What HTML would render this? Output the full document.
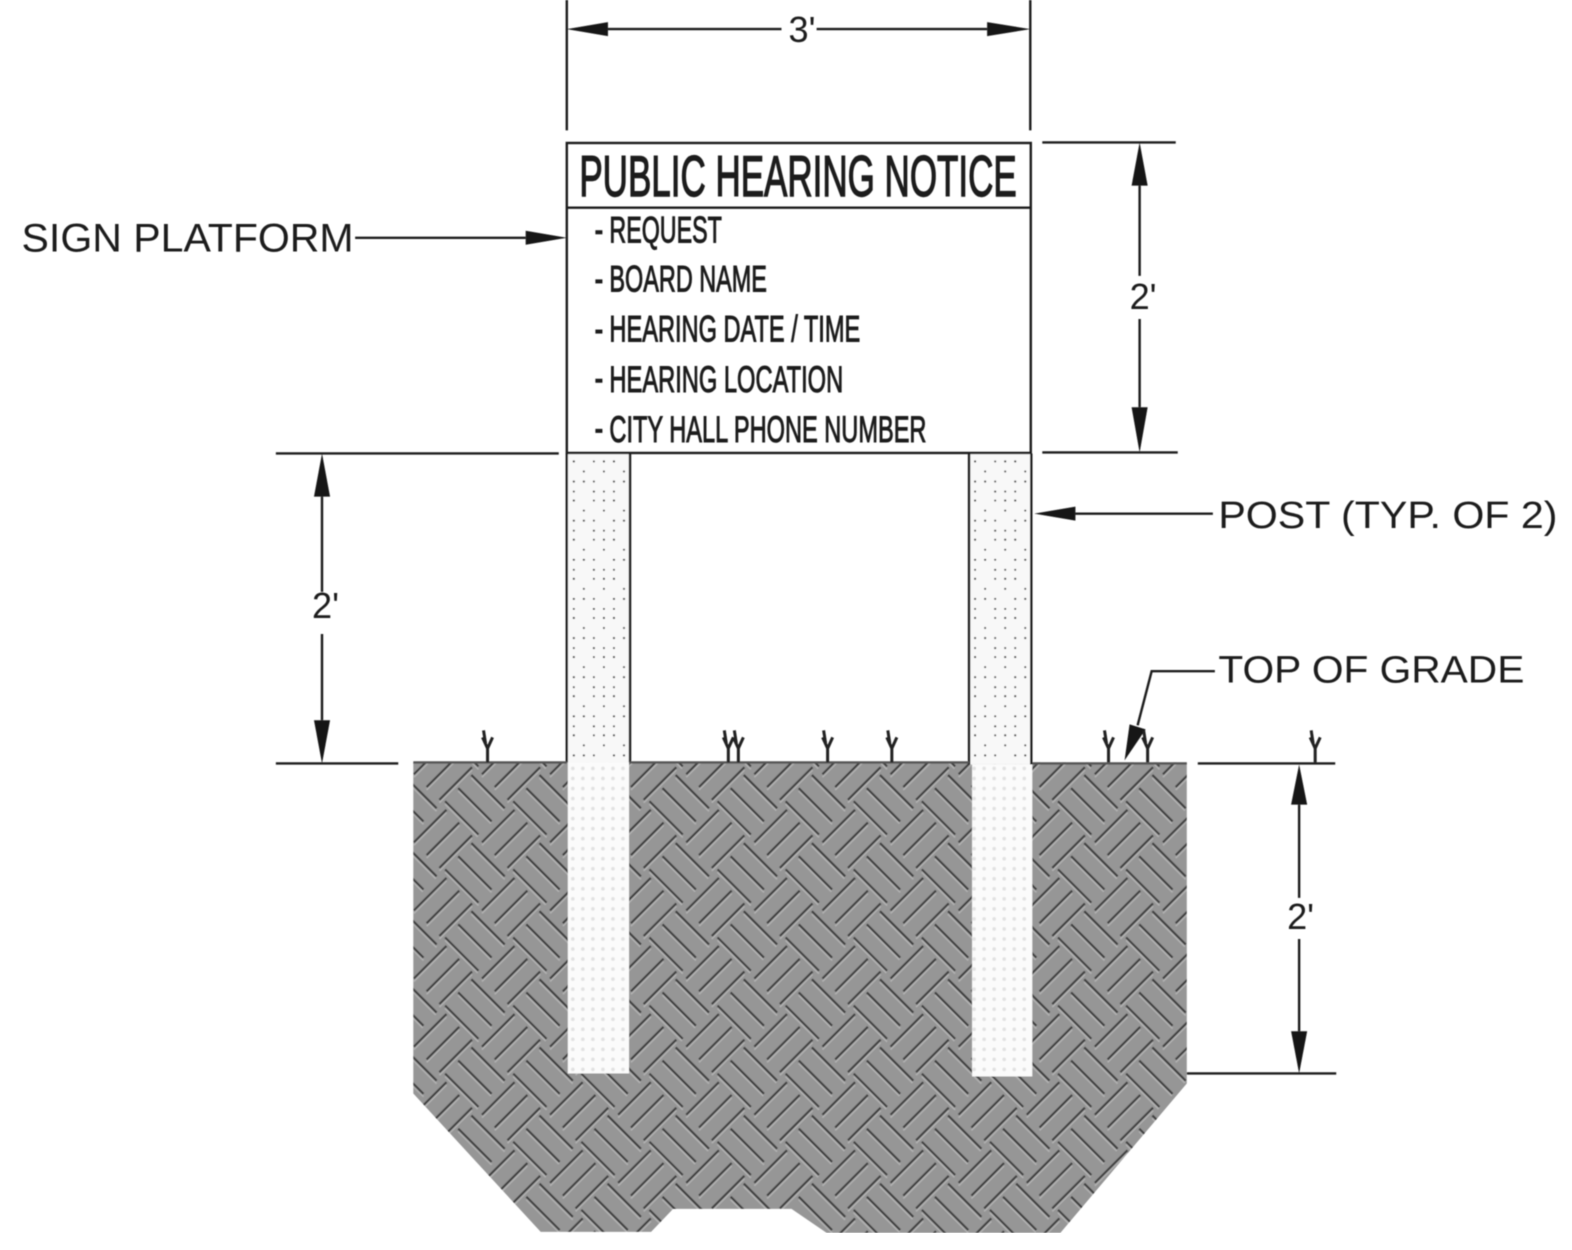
<!DOCTYPE html>
<html><head><meta charset="utf-8"><style>html,body{margin:0;padding:0;background:#fff}svg{display:block}text{font-family:"Liberation Sans",sans-serif;fill:#1c1c1c}</style></head><body>
<svg width="1572" height="1250" viewBox="0 0 1567 1246" xmlns="http://www.w3.org/2000/svg">
<defs>
<filter id="soft" x="0" y="0" width="100%" height="100%"><feGaussianBlur stdDeviation="0.55"/></filter>
<pattern id="weave" patternUnits="userSpaceOnUse" width="96" height="96" patternTransform="translate(674.5 772.5) rotate(45)">
<rect width="96" height="96" fill="#969696"/>
<g stroke="#bcbcbc" stroke-width="1.6" transform="translate(2 2)" opacity=".75"><path d="M0 0H47M0 18.500H47M0 37H47M0 96H47M48 48H95M48 66.500H95M48 85H95M55 -6V40M73 -6V40M91 -6V40M55 90V136M73 90V136M91 90V136M7 42V88M25 42V88M43 42V88"/></g>
<g stroke="#404040" stroke-width="2.200"><path d="M0 0H47M0 18.500H47M0 37H47M0 96H47M48 48H95M48 66.500H95M48 85H95M55 -6V40M73 -6V40M91 -6V40M55 90V136M73 90V136M91 90V136M7 42V88M25 42V88M43 42V88"/></g>
</pattern>
<pattern id="dots" patternUnits="userSpaceOnUse" width="40" height="39" x="568" y="456"><rect width="40" height="39" fill="#f8f8f8"/>
<g fill="#444"><circle cx="5" cy="4" r="1.100"/><circle cx="25" cy="4" r="1"/><circle cx="35" cy="4" r="1.100"/><circle cx="15" cy="14" r="1"/><circle cx="35" cy="14" r="1"/><circle cx="5" cy="24" r="1.100"/><circle cx="15" cy="24" r="1.100"/><circle cx="25" cy="24" r="1"/><circle cx="5" cy="34" r="1"/><circle cx="25" cy="34" r="1.100"/><circle cx="35" cy="34" r="1"/></g></pattern>
<pattern id="dots2" patternUnits="userSpaceOnUse" width="10" height="10" x="568" y="762"><rect width="10" height="10" fill="#fbfbfb"/><circle cx="4" cy="4" r="1.800" fill="#e2e2e2"/></pattern>
<g id="t" fill="none" stroke="#222" stroke-width="3"><path d="M0 0V-14M0-14L-5-25M0-14L5-25M-2-19L-4-32"/></g>
</defs>

<g filter="url(#soft)">
<g transform="translate(-1 0)">
<polygon points="413,760 1184,760 1184,1080 1058,1229 825,1229 790,1205 672,1205 650,1228 540,1228 413,1090" fill="url(#weave)"/>

<rect x="566" y="452" width="63" height="308" fill="url(#dots)"/>
<rect x="967" y="452" width="62" height="310" fill="url(#dots)"/>
<rect x="567" y="760" width="61" height="310" fill="url(#dots2)"/>
<rect x="970" y="762" width="60" height="311" fill="url(#dots2)"/>

<g stroke="#1f1f1f" stroke-width="2.400" fill="none">
<path d="M566 0V130M1028 0V130"/>
<path d="M607 29H780M815 29H985"/>
<rect x="566" y="142.500" width="462.500" height="309"/>
<path d="M566 207H1029"/>
<path d="M566 452V760M629 452V760M967 452V762M1029 452V762"/>
<path d="M276 452H558M276 761H398"/>
<path d="M1040 142H1173M1040 451H1175"/>
<path d="M1195 761H1332M1184 1070H1333"/>
<path d="M322 495V590M322 632V718"/>
<path d="M1137 185V275M1137 318V406"/>
<path d="M1296 802V895M1296 936V1028"/>
<path d="M355 237H525"/>
<path d="M1073 512H1210"/>
<path d="M1212 669H1149L1135 723"/>
<path d="M413 760H566M629 760H967M1030 761H1184" stroke="#555"/>
</g>

<g fill="#141414">
<polygon points="566,29 607,22 607,36"/>
<polygon points="1028,29 985,22 985,36"/>
<polygon points="566,237 525,230 525,244"/>
<polygon points="1032,512 1073,505 1073,519"/>
<polygon points="322,452 314,495 330,495"/>
<polygon points="322,761 314,718 330,718"/>
<polygon points="1137,142 1129,185 1145,185"/>
<polygon points="1137,451 1129,406 1145,406"/>
<polygon points="1296,762 1288,802 1304,802"/>
<polygon points="1296,1070 1288,1028 1304,1028"/>
<polygon points="1122,758 1127,722 1143,727"/>
</g>

<use href="#t" x="487" y="760"/><use href="#t" x="727" y="760"/><use href="#t" x="737" y="760"/><use href="#t" x="826" y="760"/><use href="#t" x="890" y="760"/><use href="#t" x="1106" y="760"/><use href="#t" x="1145" y="760"/><use href="#t" x="1312" y="760"/>
</g>

<g transform="translate(-1.500 -1.500)">
<text x="579" y="197" font-size="57" textLength="436" lengthAdjust="spacingAndGlyphs" stroke="#1c1c1c" stroke-width="1.400">PUBLIC HEARING NOTICE</text>
<g font-size="37" stroke="#1c1c1c" stroke-width="1">
<text x="609" y="243" textLength="112" lengthAdjust="spacingAndGlyphs">REQUEST</text>
<text x="609" y="292" textLength="157" lengthAdjust="spacingAndGlyphs">BOARD NAME</text>
<text x="609" y="342" textLength="250" lengthAdjust="spacingAndGlyphs">HEARING DATE / TIME</text>
<text x="609" y="392" textLength="233" lengthAdjust="spacingAndGlyphs">HEARING LOCATION</text>
<text x="609" y="442" textLength="316" lengthAdjust="spacingAndGlyphs">CITY HALL PHONE NUMBER</text>
</g>
<g fill="#1c1c1c"><rect x="595" y="231" width="7" height="4"/><rect x="595" y="280" width="7" height="4"/><rect x="595" y="330" width="7" height="4"/><rect x="595" y="379" width="7" height="4"/><rect x="595" y="429" width="7" height="4"/></g>

<text x="23" y="252" font-size="40" textLength="331" lengthAdjust="spacingAndGlyphs">SIGN PLATFORM</text>
<text x="1216" y="528" font-size="38" textLength="338" lengthAdjust="spacingAndGlyphs">POST (TYP. OF 2)</text>
<text x="1216" y="682" font-size="38" textLength="305" lengthAdjust="spacingAndGlyphs">TOP OF GRADE</text>
</g>
<text x="786" y="42" font-size="36">3'</text>
<text x="311" y="616" font-size="36">2'</text>
<text x="1126" y="308" font-size="36">2'</text>
<text x="1283" y="926" font-size="36">2'</text>
</g>
</svg>
</body></html>
